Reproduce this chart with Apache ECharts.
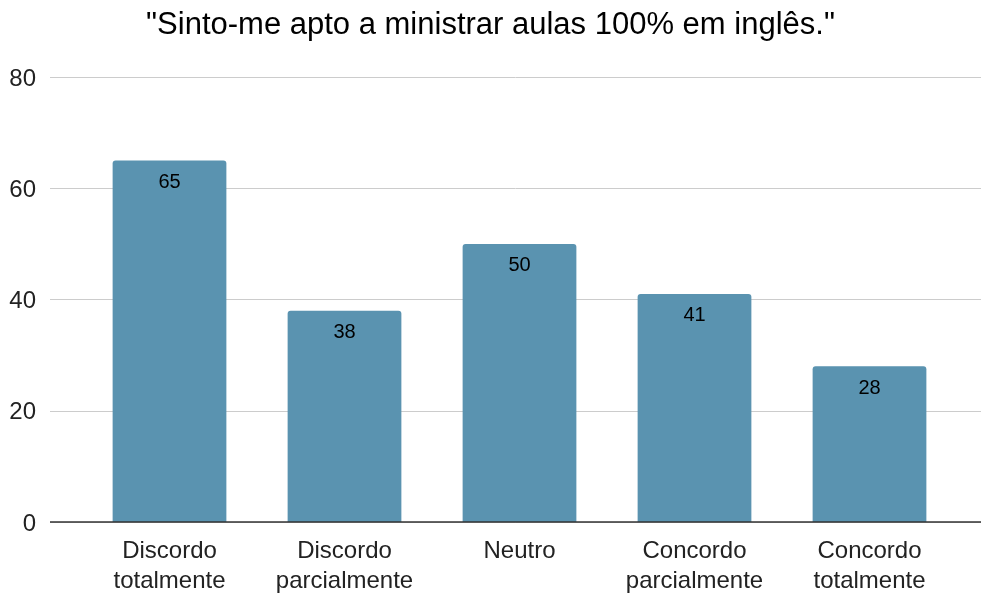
<!DOCTYPE html>
<html>
<head>
<meta charset="utf-8">
<script src="https://cdn.jsdelivr.net/npm/echarts@6/dist/echarts.min.js"></script>
<style>
  html, body { margin: 0; padding: 0; background: #fff; }
  #main { width: 981px; height: 593px; }
</style>
</head>
<body>
<div id="main"></div>
<script>
// dados
var categorias = ['Discordo\ntotalmente', 'Discordo\nparcialmente', 'Neutro', 'Concordo\nparcialmente', 'Concordo\ntotalmente'];
var respostas = [65, 38, 50, 41, 28];
var ticksY = [0, 20, 40, 60, 80];

var myChart = echarts.init(document.getElementById('main'));
var fonte = '"Liberation Sans", Arial, sans-serif';

var option = {
    animation: false,
    title: {
        text: '"Sinto-me apto a ministrar aulas 100% em inglês."',
        left: 'center',
        top: 5,
        textStyle: { fontFamily: fonte, fontSize: 31, fontWeight: 'normal', color: '#000' }
    },
    grid: [
        // grid das barras
        { left: 82, right: 24, top: 77, bottom: 71, outerBoundsMode: 'none' },
        // grid só para as linhas de grade (mais larga)
        { left: 50, right: 0, top: 77, bottom: 71, outerBoundsMode: 'none' }
    ],
    xAxis: [
        {
            type: 'category',
            gridIndex: 0,
            data: categorias,
            axisTick: { show: false },
            axisLine: { show: false },
            axisLabel: {
                fontFamily: fonte, fontSize: 24, color: '#222',
                lineHeight: 30, margin: 14, interval: 0
            }
        },
        {
            type: 'value',
            gridIndex: 1,
            show: false
        }
    ],
    yAxis: [
        {
            type: 'value',
            gridIndex: 0,
            min: ticksY[0], max: ticksY[ticksY.length - 1], interval: 20,
            axisLabel: { show: false },
            axisLine: { show: false },
            axisTick: { show: false },
            splitLine: { show: false }
        },
        {
            type: 'value',
            gridIndex: 1,
            min: ticksY[0], max: ticksY[ticksY.length - 1], interval: 20,
            axisLabel: {
                fontFamily: fonte, fontSize: 24, color: '#222', margin: 14,
                formatter: function (v) { return '{n|' + v + '}'; },
                rich: { n: { fontFamily: fonte, fontSize: 24, color: '#222', padding: [4, 0, 0, 0] } }
            },
            axisLine: { show: false },
            axisTick: { show: false },
            splitLine: {
                lineStyle: { color: '#cccccc', width: 1 }
            }
        }
    ],
    series: [
        {
            type: 'bar',
            xAxisIndex: 0,
            yAxisIndex: 0,
            data: respostas,
            barWidth: '65%',
            itemStyle: { color: '#5a93b0', borderRadius: [3, 3, 0, 0] },
            label: {
                show: true,
                position: 'insideTop',
                distance: 12,
                fontFamily: fonte, fontSize: 20, color: '#000'
            },
            z: 3
        },
        {
            // linha do eixo zero (escura)
            type: 'line',
            xAxisIndex: 1,
            yAxisIndex: 1,
            data: [],
            markLine: {
                silent: true,
                symbol: 'none',
                label: { show: false },
                lineStyle: { color: '#333', width: 1.5, type: 'solid' },
                data: [{ yAxis: 0 }]
            },
            z: 4
        }
    ]
};

myChart.setOption(option);
</script>
</body>
</html>
